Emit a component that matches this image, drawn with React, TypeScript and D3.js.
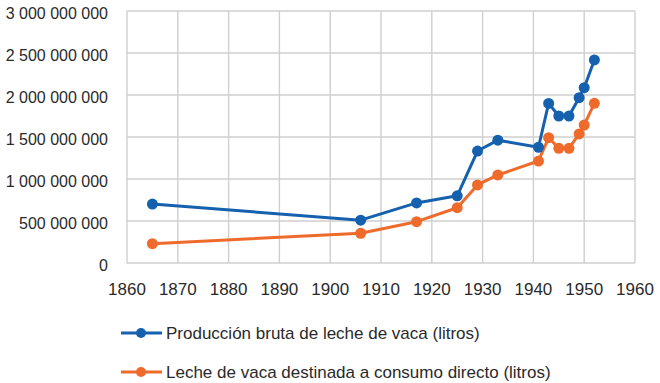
import { useRef, useEffect } from 'react'
import * as d3 from 'd3'

// years of each observation
const years = [1865, 1906, 1917, 1925, 1929, 1933, 1941, 1943, 1945, 1947, 1949, 1950, 1952]

// gross cow milk production (litres)
const produccionBruta = [
    702e6, 510e6, 715e6, 800e6, 1333e6, 1462e6, 1378e6, 1900e6, 1750e6, 1750e6, 1968e6, 2087e6, 2417e6,
]

// cow milk for direct consumption (litres)
const consumoDirecto = [
    230e6, 354e6, 492e6, 658e6, 929e6, 1048e6, 1214e6, 1492e6, 1365e6, 1365e6, 1536e6, 1643e6, 1901e6,
]

const xTicks = [1860, 1870, 1880, 1890, 1900, 1910, 1920, 1930, 1940, 1950, 1960]
const yTicks = [0, 500e6, 1000e6, 1500e6, 2000e6, 2500e6, 3000e6]

const seriesNames = [
    'Producción bruta de leche de vaca (litros)',
    'Leche de vaca destinada a consumo directo (litros)',
]
const colors = ['#1561ad', '#ee6b2c']

const App = () => {
    const svgRef = useRef<SVGSVGElement>(null)

    useEffect(() => {
        const w = 660
        const h = 383
        const svg = d3.select(svgRef.current)
        svg.selectAll('*').remove()
        svg.attr('width', w).attr('height', h).style('background', '#fff')

        const font = "'Liberation Sans', Arial, sans-serif"
        const textColor = '#2a2a2a'
        const gridColor = '#cfcfcf'

        const xScale = d3.scaleLinear().domain([1860, 1960]).range([127, 635])
        const yScale = d3.scaleLinear().domain([0, 3e9]).range([263, 11])

        // grid
        const grid = svg.append('g')
        grid.selectAll('.vgrid')
            .data(xTicks)
            .join('line')
            .attr('x1', d => xScale(d))
            .attr('x2', d => xScale(d))
            .attr('y1', yScale(3e9))
            .attr('y2', yScale(0))
            .attr('stroke', gridColor)
            .attr('stroke-width', 1.4)
        grid.selectAll('.hgrid')
            .data(yTicks)
            .join('line')
            .attr('x1', xScale(1860))
            .attr('x2', xScale(1960))
            .attr('y1', d => yScale(d))
            .attr('y2', d => yScale(d))
            .attr('stroke', gridColor)
            .attr('stroke-width', 1.4)

        // y labels, spaces as thousand separator
        const fmt = (v: number) => d3.format(',')(v).replace(/,/g, ' ')
        svg.append('g')
            .selectAll('text')
            .data(yTicks)
            .join('text')
            .attr('x', 108)
            .attr('y', d => yScale(d) + 8)
            .attr('text-anchor', 'end')
            .attr('font-family', font)
            .attr('font-size', 16)
            .attr('fill', textColor)
            .text(d => fmt(d))

        // x labels
        svg.append('g')
            .selectAll('text')
            .data(xTicks)
            .join('text')
            .attr('x', d => xScale(d))
            .attr('y', 295)
            .attr('text-anchor', 'middle')
            .attr('font-family', font)
            .attr('font-size', 17)
            .attr('fill', textColor)
            .text(d => d)

        const series = [produccionBruta, consumoDirecto]
        const line = d3.line<number>()
            .x((d, i) => xScale(years[i]))
            .y(d => yScale(d))

        // draw orange first so blue sits above where they meet
        ;[1, 0].forEach(s => {
            const g = svg.append('g')
            g.append('path')
                .datum(series[s])
                .attr('d', line)
                .attr('fill', 'none')
                .attr('stroke', colors[s])
                .attr('stroke-width', 3)
                .attr('stroke-linejoin', 'round')
            g.selectAll('circle')
                .data(series[s])
                .join('circle')
                .attr('cx', (d, i) => xScale(years[i]))
                .attr('cy', d => yScale(d))
                .attr('r', 5.5)
                .attr('fill', colors[s])
        })

        // legend
        const legend = svg.append('g')
        seriesNames.forEach((name, i) => {
            const y = 333 + i * 39
            legend.append('line')
                .attr('x1', 121).attr('x2', 162)
                .attr('y1', y).attr('y2', y)
                .attr('stroke', colors[i])
                .attr('stroke-width', 3)
            legend.append('circle')
                .attr('cx', 141).attr('cy', y).attr('r', 5)
                .attr('fill', colors[i])
            legend.append('text')
                .attr('x', 166)
                .attr('y', y + 6)
                .attr('font-family', font)
                .attr('font-size', 17)
                .attr('fill', textColor)
                .text(name)
        })
    }, [])

    return (
        <div>
            <svg ref={svgRef} style={{ position: 'absolute', left: 0, top: 0 }}></svg>
        </div>
    )
}

export default App
